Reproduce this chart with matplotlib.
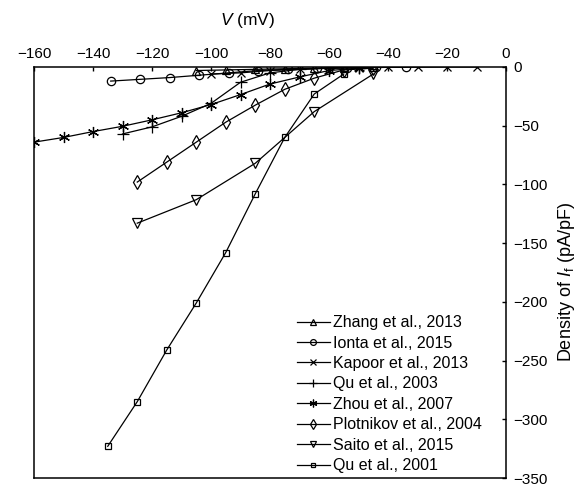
import matplotlib
matplotlib.use("Agg")
import matplotlib.pyplot as plt

plt.rcParams['font.family'] = ['Liberation Sans', 'DejaVu Sans']
plt.rcParams['mathtext.fontset'] = 'custom'
plt.rcParams['mathtext.it'] = 'Liberation Sans:italic'
plt.rcParams['mathtext.rm'] = 'Liberation Sans'

# data: voltage (mV) and current density (pA/pF)
zhang_v = [-105, -95, -85, -75, -65, -55, -45]
zhang_i = [-3, -2.5, -2, -1.5, -1, -0.5, -0.3]

ionta_v = [-134, -124, -114, -104, -94, -84, -74, -64, -54, -44, -34]
ionta_i = [-12, -10.5, -9, -7, -5, -3, -2, -1.2, -0.7, -0.4, -0.2]

kapoor_v = [-100, -90, -80, -70, -60, -50, -40, -30, -20, -10]
kapoor_i = [-6, -5, -3, -2, -1, -0.5, -0.3, -0.2, 0, 0]

qu03_v = [-130, -120, -110, -100, -90, -80, -70, -60, -50]
qu03_i = [-57, -51, -42, -31, -13, -5, -2, -1, -0.5]

zhou_v = [-160, -150, -140, -130, -120, -110, -100, -90, -80, -70, -60, -50]
zhou_i = [-64, -60, -55, -50.5, -45, -39, -32, -23.5, -14.5, -8.5, -3, -1]

plot_v = [-125, -115, -105, -95, -85, -75, -65, -55, -45]
plot_i = [-98, -81, -64, -47, -32.5, -19, -9.5, -2.5, -1]

saito_v = [-125, -105, -85, -65, -45]
saito_i = [-133, -113, -82, -38, -6]

qu01_v = [-135, -125, -115, -105, -95, -85, -75, -65, -55]
qu01_i = [-323, -285, -241, -201, -158, -108, -60, -23, -6]

labels = ["Zhang et al., 2013", "Ionta et al., 2015", "Kapoor et al., 2013",
          "Qu et al., 2003", "Zhou et al., 2007", "Plotnikov et al., 2004",
          "Saito et al., 2015", "Qu et al., 2001"]
series = [(zhang_v, zhang_i, '^', 6), (ionta_v, ionta_i, 'o', 6),
          (kapoor_v, kapoor_i, 'x', 6), (qu03_v, qu03_i, '+', 8),
          (zhou_v, zhou_i, (6, 2, 0), 8), (plot_v, plot_i, 'd', 7),
          (saito_v, saito_i, 'v', 7), (qu01_v, qu01_i, 's', 5)]

fig = plt.figure(figsize=(5.81, 4.87), dpi=100)
ax = fig.add_axes([34 / 581, 1 - 478 / 487, 472 / 581, 411 / 487])

for (v, i, m, ms), lab in zip(series, labels):
    ax.plot(v, i, color='black', lw=0.9, marker=m, ms=ms,
            mfc='none', mec='black', mew=0.9, label=lab)

ax.set_xlim(-160, 0)
ax.set_ylim(-350, 0)
ax.set_xticks(range(-160, 1, 20))
ax.set_yticks(range(-350, 1, 50))
ax.xaxis.tick_top()
ax.yaxis.tick_right()
ax.tick_params(direction='in', length=3, width=1, labelsize=11, pad=4)
ax.tick_params(axis='y', pad=5)
for s in ax.spines.values():
    s.set_linewidth(1.1)

ax.set_xlabel('$V$ (mV)', fontsize=12.5)
ax.xaxis.set_label_position('top')
ax.xaxis.set_label_coords(0.453, 1.102)
ax.set_ylabel('Density of $I_{\\mathrm{f}}$ (pA/pF)', fontsize=13)
ax.yaxis.set_label_position('right')
ax.yaxis.set_label_coords(1.105, 0.478)

ax.legend(loc='lower right', bbox_to_anchor=(0.96, 0.0), frameon=False,
          fontsize=11.5, handlelength=2.1, handletextpad=0.2,
          labelspacing=0.34, markerscale=0.7, borderaxespad=0.0,
          borderpad=0.3)

fig.savefig('out.png', dpi=100)
